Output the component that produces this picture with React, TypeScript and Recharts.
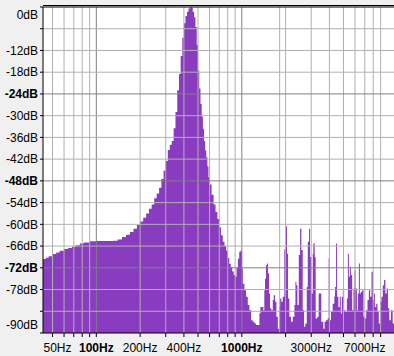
import {
  Area,
  CartesianGrid,
  ComposedChart,
  ReferenceLine,
  XAxis,
  YAxis,
} from "recharts";

// Spectrum readings (Hz -> dB), split by region of the plot.
const baseFreq = [43, 45, 47, 50, 53, 56, 60, 64, 68, 72, 77, 82, 90, 100, 110, 120, 130, 140, 150, 160, 170, 180, 190, 200, 210, 220, 230, 240, 250, 260, 270, 280, 290];
const baseDb = [-69.6, -69.2, -68.8, -68.2, -67.8, -67.3, -66.8, -66.5, -66.2, -65.8, -65.3, -65.0, -64.7, -64.6, -64.6, -64.6, -64.5, -64.2, -63.5, -62.9, -62.1, -61.2, -60.2, -59.2, -58.2, -57.0, -55.7, -54.5, -52.8, -51.5, -49.9, -47.5, -45.2];

const toneFreq = [300, 310, 320, 330, 340, 350, 360, 370, 380, 390, 400, 410, 420, 430, 440, 450, 460, 470, 480, 490, 500, 510, 520, 530, 540, 550, 560, 570, 580, 590, 600, 620, 640, 660, 680, 700, 720, 740, 760, 780, 800, 820, 840, 860, 880, 900, 920, 940, 960, 980];
const toneDb = [-42.5, -39.5, -38.0, -37.0, -33.5, -29.0, -23.0, -18.5, -13.5, -8.5, -4.5, -2.5, -1.3, -0.4, 0, -0.2, -1.3, -2.8, -5.5, -10.5, -17.5, -22.5, -26.8, -30.2, -33.6, -37.0, -39.6, -41.5, -44.0, -47.0, -49.0, -51.8, -54.5, -56.6, -58.5, -60.8, -63.0, -64.8, -66.0, -67.2, -69.3, -70.9, -71.8, -73.0, -74.0, -74.5, -72.0, -69.5, -67.6, -67.2];

const hissFreq = [1000, 1005, 1016, 1042, 1070, 1099, 1128, 1159, 1190, 1221, 1254, 1288, 1321, 1342, 1378, 1406, 1428, 1444, 1467, 1490, 1514, 1538, 1562, 1595, 1632, 1658, 1694, 1729, 1769, 1805, 1833, 1870, 1911, 1960, 2013, 2045, 2078, 2122, 2179, 2239, 2299, 2336, 2373, 2411, 2464, 2515, 2567, 2622, 2678, 2734, 2796, 2841, 2899, 2946, 3007, 3074, 3104, 3171, 3220, 3302, 3375, 3446, 3518, 3630, 3710, 3789, 3891, 3953, 4016, 4100, 4212, 4323, 4373, 4445, 4517, 4613, 4717, 4793, 4870, 4948, 5052, 5158, 5273, 5358, 5444, 5531, 5619, 5736, 5856, 5950, 6045, 6180, 6278, 6378, 6480, 6584, 6720, 6861, 7015, 7160, 7310, 7470, 7630, 7790, 7960, 8090, 8210, 8390, 8560, 8740, 8930, 9120, 9310, 9500, 9700, 9910, 10110, 10320, 10600, 10890, 11120];
const hissDb = [-68.0, -72.2, -76.4, -78.2, -80.0, -82.3, -83.7, -86.5, -86.9, -87.4, -87.8, -87.8, -84.6, -82.8, -82.8, -83.7, -78.2, -75.0, -71.3, -70.8, -73.6, -79.1, -83.2, -83.7, -80.9, -79.6, -81.4, -85.5, -88.8, -82.8, -80.5, -81.4, -80.0, -66.9, -60.5, -68.1, -80.5, -85.5, -86.9, -85.5, -82.3, -75.9, -76.8, -82.3, -68.5, -61.2, -67.1, -83.7, -88.3, -87.4, -77.3, -64.8, -61.2, -69.0, -79.1, -68.1, -65.3, -69.0, -86.0, -85.5, -79.1, -79.1, -86.9, -88.8, -86.9, -86.5, -86.0, -69.4, -86.5, -84.2, -81.9, -80.0, -77.3, -65.3, -80.0, -82.8, -80.0, -84.6, -80.0, -77.7, -83.7, -84.2, -80.5, -68.1, -74.5, -71.7, -74.0, -83.7, -77.7, -72.7, -77.7, -83.7, -79.1, -70.8, -79.1, -78.6, -78.2, -85.5, -86.0, -83.7, -80.9, -78.2, -80.0, -73.1, -80.9, -79.1, -82.8, -81.9, -84.2, -87.4, -81.4, -80.0, -76.8, -75.4, -79.1, -77.7, -83.2, -86.5, -83.7, -87.4, -87.4];

const freqTicks = [50, 60, 70, 80, 90, 100, 200, 300, 400, 500, 600, 700, 800, 900, 1000, 2000, 3000, 4000, 5000, 6000, 7000, 8000, 9000];
const freqGrid = [...freqTicks, 1820];
const freqLabels = [50, 100, 200, 400, 1000, 3000, 7000];
const boldFreq = [100, 1000];

const dbTicks = [0, -6, -12, -18, -24, -30, -36, -42, -48, -54, -60, -66, -72, -78, -84, -90];
const unlabeledDb = [-6, -84];
const boldDb = [-24, -48, -72];

const freq = [...baseFreq, ...toneFreq, ...hissFreq];
const level = [...baseDb, ...toneDb, ...hissDb];
const data = freq.map((f, i) => ({ f, db: level[i] }));

const FONT = '"Liberation Sans", Arial, sans-serif';
const PURPLE = "#8a3cc0";

function YTick(props: any) {
  const { x, y, payload } = props;
  const v = payload.value;
  if (unlabeledDb.includes(v)) return <g />;
  let off = 0;
  if (v === 0) off = 7.5;
  if (v === -90) off = -8;
  return (
    <text
      x={x}
      y={y + off}
      dy="0.355em"
      textAnchor="end"
      fontSize={12}
      fontFamily={FONT}
      fontWeight={boldDb.includes(v) ? "bold" : "normal"}
      fill="#000"
    >
      {v}dB
    </text>
  );
}

function XTick(props: any) {
  const { x, y, payload } = props;
  const v = payload.value;
  if (!freqLabels.includes(v)) return <g />;
  const left = v === 50;
  return (
    <text
      x={left ? 43.5 : x}
      y={y}
      dy="0.71em"
      textAnchor={left ? "start" : "middle"}
      fontSize={12}
      fontFamily={FONT}
      fontWeight={boldFreq.includes(v) ? "bold" : "normal"}
      fill="#000"
    >
      {v}Hz
    </text>
  );
}

export default function App() {
  return (
    <div style={{ position: "absolute", left: 0, top: 0, width: 394, height: 356, background: "#f0f0f0", overflow: "hidden" }}>
      <ComposedChart width={394} height={356} data={data} margin={{ top: 7, right: 0, bottom: 0, left: 0 }}>
        <CartesianGrid horizontal={false} vertical={false} fill="#ffffff" />
        <XAxis
          dataKey="f"
          type="number"
          scale="log"
          domain={[43, 11120]}
          allowDataOverflow
          ticks={freqTicks}
          interval={0}
          height={23}
          tickSize={4}
          tickMargin={6}
          stroke="#000"
          tickLine={{ stroke: "#000" }}
          axisLine={{ stroke: "#000" }}
          tick={(p: any) => <XTick {...p} />}
        />
        <YAxis
          type="number"
          domain={[-90, 0]}
          allowDataOverflow
          ticks={dbTicks}
          interval={0}
          width={43}
          tickSize={3}
          tickMargin={2}
          stroke="#000"
          tickLine={{ stroke: "#000" }}
          axisLine={{ stroke: "#000" }}
          tick={(p: any) => <YTick {...p} />}
        />
        <Area
          type="stepAfter"
          dataKey="db"
          baseValue={-90}
          fill={PURPLE}
          fillOpacity={1}
          stroke="none"
          isAnimationActive={false}
        />
        {freqGrid.map((f) => (
          <ReferenceLine key={"x" + f} x={f} stroke={boldFreq.includes(f) ? "#808080" : "#b0b0b0"} strokeWidth={1} />
        ))}
        {dbTicks
          .filter((v) => v !== 0 && v !== -90)
          .map((v) => (
            <ReferenceLine key={"y" + v} y={v} stroke={boldDb.includes(v) ? "#808080" : "#b0b0b0"} strokeWidth={1} />
          ))}
        <ReferenceLine y={0} stroke="#000" strokeWidth={1} />
      </ComposedChart>
      <div style={{ position: "absolute", left: 43, top: 5, width: 351, height: 1, background: "#000" }} />
    </div>
  );
}
